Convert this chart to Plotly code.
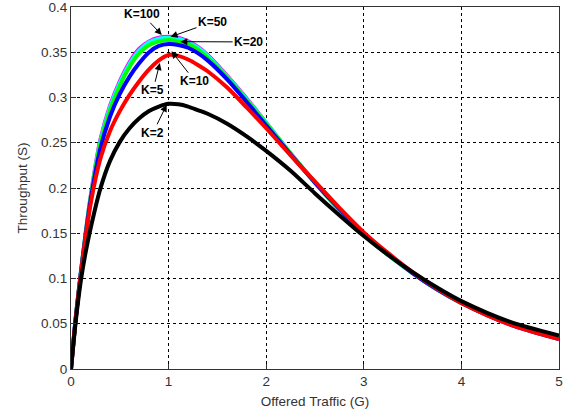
import plotly.graph_objects as go

G = [0, 0.05, 0.1, 0.15, 0.2, 0.3, 0.4, 0.5, 0.6, 0.7, 0.8, 0.9, 1.0, 1.1, 1.2, 1.3, 1.4,
     1.6, 1.8, 2.0, 2.25, 2.5, 2.75, 3.0, 3.25, 3.5, 3.75, 4.0, 4.5, 5.0]

S_K100 = [0, 0.058, 0.106, 0.150, 0.190, 0.253, 0.291, 0.318, 0.339, 0.354, 0.362, 0.366, 0.367, 0.366,
          0.362, 0.356, 0.347, 0.324, 0.299, 0.272, 0.238, 0.206, 0.176, 0.149, 0.126, 0.106, 0.088,
          0.073, 0.050, 0.034]
S_K50 = [0, 0.058, 0.106, 0.150, 0.189, 0.251, 0.289, 0.316, 0.337, 0.352, 0.361, 0.365, 0.366, 0.365,
         0.361, 0.355, 0.346, 0.323, 0.298, 0.272, 0.238, 0.206, 0.176, 0.149, 0.126, 0.106, 0.088,
         0.073, 0.050, 0.034]
S_K20 = [0, 0.058, 0.105, 0.149, 0.188, 0.249, 0.286, 0.313, 0.334, 0.349, 0.358, 0.362, 0.3636, 0.362,
         0.359, 0.353, 0.344, 0.322, 0.297, 0.271, 0.238, 0.206, 0.176, 0.149, 0.126, 0.106, 0.088,
         0.073, 0.050, 0.034]
S_K10 = [0, 0.058, 0.105, 0.148, 0.186, 0.243, 0.279, 0.304, 0.323, 0.338, 0.350, 0.357, 0.359, 0.358,
         0.355, 0.349, 0.341, 0.320, 0.295, 0.269, 0.237, 0.206, 0.177, 0.150, 0.127, 0.106, 0.088,
         0.073, 0.049, 0.033]
S_K5 = [0, 0.057, 0.104, 0.146, 0.182, 0.232, 0.263, 0.285, 0.303, 0.318, 0.331, 0.341, 0.347, 0.346,
        0.342, 0.336, 0.329, 0.311, 0.289, 0.266, 0.236, 0.207, 0.178, 0.151, 0.128, 0.107, 0.089,
        0.073, 0.049, 0.033]
S_K2 = [0, 0.054, 0.097, 0.129, 0.155, 0.199, 0.230, 0.251, 0.266, 0.277, 0.285, 0.290, 0.293, 0.2925,
        0.290, 0.286, 0.282, 0.271, 0.257, 0.241, 0.219, 0.194, 0.170, 0.147, 0.126, 0.107, 0.090,
        0.075, 0.052, 0.037]

series = [
    ("K=100", S_K100, "#ff00ff"),
    ("K=50", S_K50, "#00ffff"),
    ("K=20", S_K20, "#00ff00"),
    ("K=10", S_K10, "#0000ff"),
    ("K=5", S_K5, "#ff0000"),
    ("K=2", S_K2, "#000000"),
]

# annotation label positions (text at ax/ay, arrow head at x/y), data coords
labels = [
    ("K=100", 0.93, 0.369, 0.73, 0.392),
    ("K=50", 1.02, 0.367, 1.45, 0.3835),
    ("K=20", 1.12, 0.3617, 1.82, 0.3614),
    ("K=10", 1.03, 0.351, 1.27, 0.318),
    ("K=5", 0.91, 0.338, 0.84, 0.308),
    ("K=2", 0.98, 0.292, 0.84, 0.261),
]

FONT = "Arial, Liberation Sans"

fig = go.Figure()
for name, s, c in series:
    fig.add_trace(go.Scatter(x=G, y=s, mode="lines", name=name,
                             line=dict(color=c, width=4, shape="spline", smoothing=0.8)))

for txt, x, y, ax, ay in labels:
    fig.add_annotation(x=x, y=y, ax=ax, ay=ay, xref="x", yref="y", axref="x", ayref="y",
                       text="<b>" + txt + "</b>", showarrow=True, arrowhead=2, arrowsize=1.4,
                       arrowwidth=1, arrowcolor="black",
                       font=dict(family=FONT, size=12, color="black"))

axis_common = dict(showline=True, linecolor="#333", linewidth=1, mirror=True,
                   ticks="inside", ticklen=5, tickcolor="#333",
                   showgrid=True, gridcolor="black", gridwidth=1, griddash="dot",
                   zeroline=False, automargin=False, ticklabeloverflow="allow",
                   tickfont=dict(family=FONT, size=13.5, color="#333"))

fig.update_xaxes(range=[0, 5], tickvals=[0, 1, 2, 3, 4, 5],
                 title=dict(text="Offered Traffic (G)", standoff=8,
                            font=dict(family=FONT, size=13.5, color="#333")),
                 **axis_common)
fig.update_yaxes(range=[0, 0.4], tickvals=[0, 0.05, 0.1, 0.15, 0.2, 0.25, 0.3, 0.35, 0.4],
                 ticktext=["0", "0.05", "0.1", "0.15", "0.2", "0.25", "0.3", "0.35", "0.4"],
                 title=dict(text="Throughput (S)", standoff=10,
                            font=dict(family=FONT, size=13.5, color="#333")),
                 **axis_common)

fig.update_layout(width=566, height=414, margin=dict(l=71, r=7, t=7, b=45),
                  paper_bgcolor="white", plot_bgcolor="white", showlegend=False)

fig.write_html("out.html")
